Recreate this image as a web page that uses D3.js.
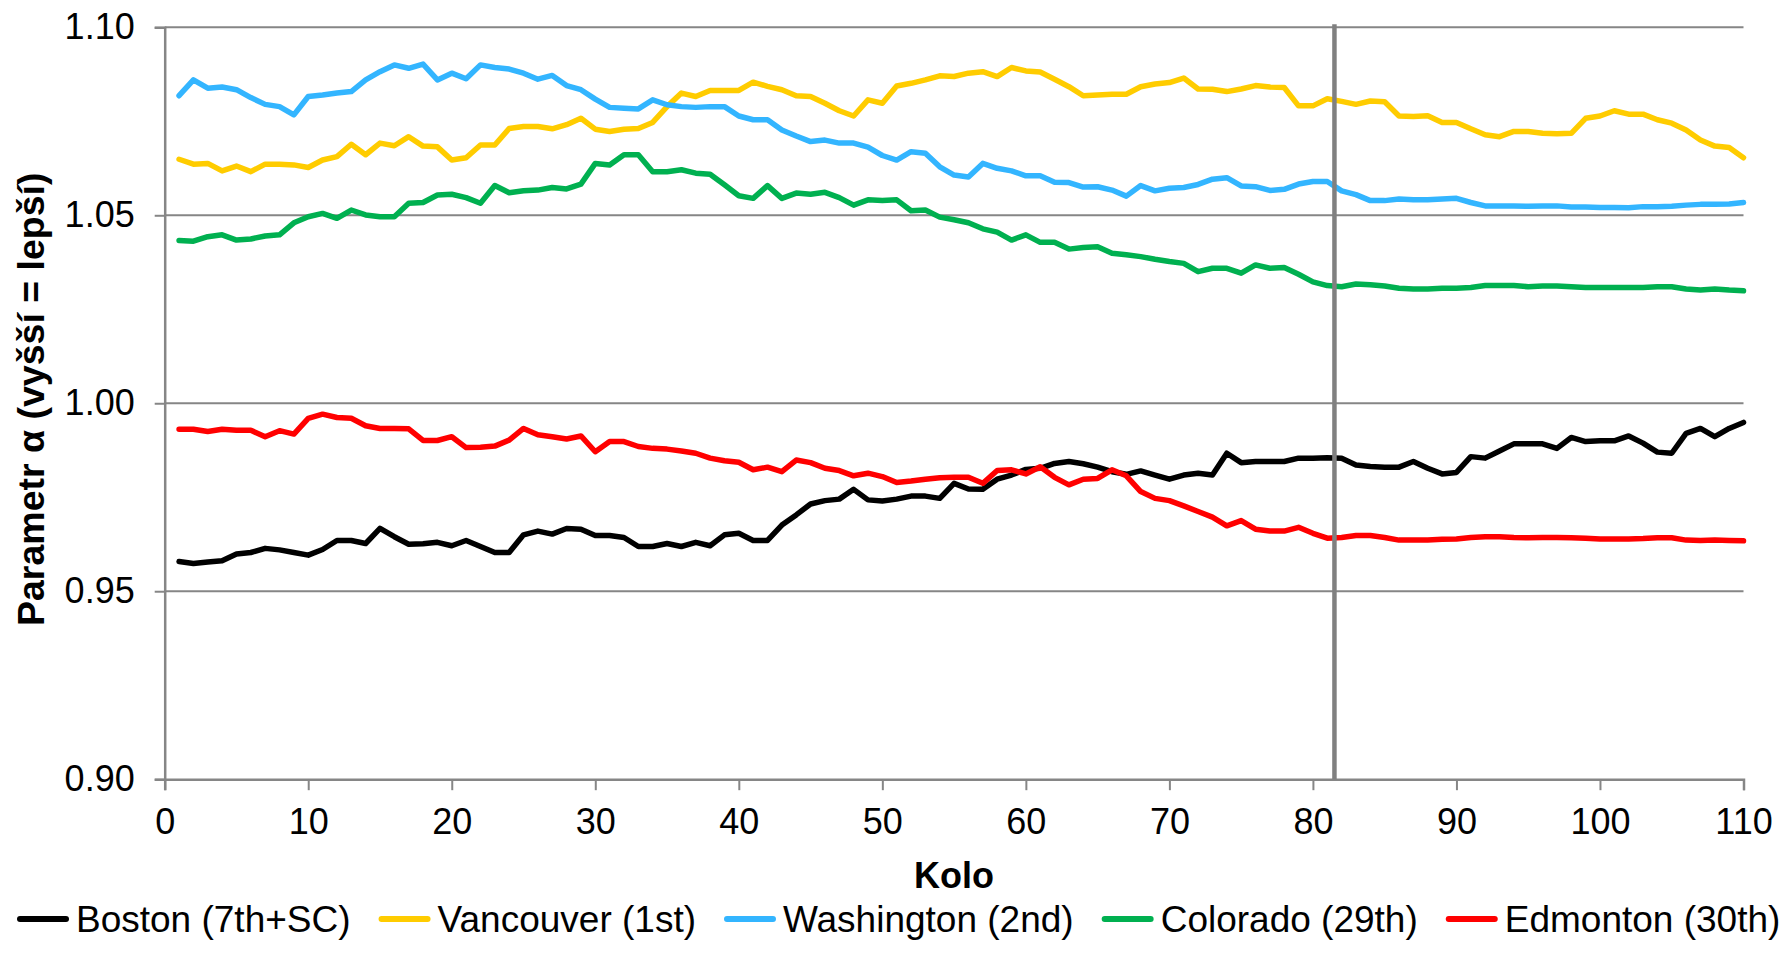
<!DOCTYPE html>
<html>
<head>
<meta charset="utf-8">
<script src="https://cdn.jsdelivr.net/npm/d3@7"></script>
<style>
  html, body { margin: 0; padding: 0; background: #fff; }
  svg { display: block; font-family: "Liberation Sans", Arial, sans-serif; }
</style>
</head>
<body>
<svg id="chart" width="1781" height="971"></svg>
<script>
// Parameter alpha per round for five teams
const seriesNames = ["Boston (7th+SC)", "Vancouver (1st)", "Washington (2nd)", "Colorado (29th)", "Edmonton (30th)"];
const seriesColors = ["#000000", "#FFCC00", "#33B5FF", "#00B050", "#FF0000"];

const boston = [0.9579,0.9574,0.9578,0.9581,0.9599,0.9603,0.9614,0.9610,0.9603,0.9596,
  0.9611,0.9635,0.9635,0.9627,0.9667,0.9645,0.9625,0.9626,0.9630,0.9621,
  0.9635,0.9619,0.9603,0.9603,0.9650,0.9660,0.9652,0.9667,0.9665,0.9648,
  0.9648,0.9643,0.9619,0.9619,0.9627,0.9619,0.9630,0.9621,0.9650,0.9654,
  0.9635,0.9635,0.9676,0.9703,0.9732,0.9741,0.9745,0.9771,0.9743,0.9740,
  0.9745,0.9753,0.9753,0.9747,0.9787,0.9772,0.9771,0.9798,0.9809,0.9824,
  0.9827,0.9840,0.9845,0.9839,0.9830,0.9818,0.9811,0.9820,0.9809,0.9798,
  0.9809,0.9814,0.9809,0.9867,0.9842,0.9845,0.9845,0.9845,0.9854,0.9854,
  0.9855,0.9854,0.9836,0.9832,0.9830,0.9830,0.9845,0.9827,0.9812,0.9816,
  0.9858,0.9854,0.9873,0.9892,0.9892,0.9892,0.9880,0.9909,0.9898,0.9900,
  0.9900,0.9913,0.9894,0.9870,0.9867,0.9920,0.9933,0.9911,0.9933,0.9949];

const vancouver = [1.0649,1.0636,1.0638,1.0618,1.0631,1.0616,1.0636,1.0636,1.0634,1.0627,
  1.0647,1.0656,1.0689,1.0661,1.0692,1.0685,1.0709,1.0684,1.0682,1.0647,
  1.0653,1.0687,1.0687,1.0731,1.0736,1.0736,1.0730,1.0741,1.0758,1.0729,
  1.0723,1.0729,1.0731,1.0747,1.0789,1.0825,1.0816,1.0832,1.0832,1.0832,
  1.0854,1.0843,1.0834,1.0818,1.0816,1.0798,1.0778,1.0764,1.0807,1.0798,
  1.0844,1.0851,1.0860,1.0871,1.0869,1.0878,1.0882,1.0869,1.0893,1.0884,
  1.0881,1.0862,1.0842,1.0818,1.0820,1.0822,1.0822,1.0842,1.0849,1.0853,
  1.0865,1.0836,1.0835,1.0829,1.0836,1.0845,1.0841,1.0840,1.0791,1.0791,
  1.0810,1.0803,1.0795,1.0804,1.0802,1.0764,1.0763,1.0765,1.0747,1.0747,
  1.0730,1.0714,1.0709,1.0723,1.0723,1.0718,1.0717,1.0718,1.0758,1.0764,
  1.0778,1.0769,1.0769,1.0754,1.0745,1.0727,1.0700,1.0684,1.0680,1.0653];

const washington = [1.0818,1.0860,1.0838,1.0841,1.0834,1.0813,1.0795,1.0789,1.0767,1.0816,
  1.0820,1.0825,1.0829,1.0860,1.0882,1.0900,1.0891,1.0902,1.0860,1.0878,
  1.0863,1.0900,1.0893,1.0889,1.0878,1.0862,1.0872,1.0845,1.0834,1.0809,
  1.0787,1.0785,1.0783,1.0807,1.0794,1.0789,1.0787,1.0789,1.0789,1.0764,
  1.0754,1.0754,1.0727,1.0711,1.0696,1.0700,1.0692,1.0692,1.0681,1.0659,
  1.0647,1.0669,1.0665,1.0629,1.0607,1.0602,1.0638,1.0625,1.0618,1.0605,
  1.0605,1.0588,1.0587,1.0575,1.0576,1.0567,1.0551,1.0579,1.0565,1.0572,
  1.0574,1.0582,1.0596,1.0600,1.0578,1.0576,1.0566,1.0569,1.0583,1.0590,
  1.0590,1.0565,1.0555,1.0539,1.0539,1.0543,1.0541,1.0541,1.0543,1.0545,
  1.0534,1.0525,1.0525,1.0525,1.0524,1.0525,1.0525,1.0522,1.0522,1.0521,
  1.0521,1.0520,1.0523,1.0523,1.0524,1.0527,1.0529,1.0529,1.0530,1.0534];

const colorado = [1.0433,1.0431,1.0443,1.0448,1.0434,1.0437,1.0445,1.0448,1.0480,1.0496,
  1.0505,1.0492,1.0514,1.0501,1.0496,1.0496,1.0532,1.0534,1.0554,1.0556,
  1.0547,1.0532,1.0579,1.0560,1.0565,1.0567,1.0574,1.0570,1.0583,1.0638,
  1.0634,1.0661,1.0661,1.0616,1.0616,1.0621,1.0612,1.0609,1.0581,1.0552,
  1.0545,1.0579,1.0545,1.0559,1.0556,1.0561,1.0547,1.0527,1.0541,1.0539,
  1.0541,1.0512,1.0514,1.0495,1.0488,1.0480,1.0464,1.0455,1.0434,1.0448,
  1.0428,1.0428,1.0410,1.0414,1.0416,1.0399,1.0395,1.0390,1.0383,1.0377,
  1.0372,1.0350,1.0359,1.0359,1.0346,1.0368,1.0359,1.0361,1.0343,1.0323,
  1.0313,1.0310,1.0317,1.0315,1.0312,1.0306,1.0304,1.0304,1.0306,1.0306,
  1.0308,1.0313,1.0313,1.0313,1.0310,1.0312,1.0312,1.0310,1.0308,1.0308,
  1.0308,1.0308,1.0308,1.0310,1.0310,1.0304,1.0301,1.0304,1.0301,1.0299];

const edmonton = [0.9931,0.9931,0.9925,0.9931,0.9928,0.9928,0.9911,0.9927,0.9918,0.9960,
  0.9971,0.9962,0.9960,0.9940,0.9933,0.9933,0.9932,0.9901,0.9901,0.9911,
  0.9882,0.9883,0.9886,0.9902,0.9933,0.9916,0.9911,0.9905,0.9913,0.9871,
  0.9898,0.9898,0.9885,0.9880,0.9878,0.9873,0.9867,0.9854,0.9847,0.9843,
  0.9823,0.9830,0.9818,0.9849,0.9842,0.9827,0.9821,0.9807,0.9814,0.9805,
  0.9789,0.9793,0.9798,0.9802,0.9803,0.9803,0.9787,0.9821,0.9823,0.9812,
  0.9831,0.9803,0.9783,0.9798,0.9800,0.9823,0.9807,0.9765,0.9747,0.9741,
  0.9727,0.9712,0.9697,0.9674,0.9688,0.9665,0.9660,0.9660,0.9670,0.9654,
  0.9641,0.9643,0.9648,0.9648,0.9643,0.9636,0.9636,0.9636,0.9638,0.9639,
  0.9643,0.9645,0.9645,0.9643,0.9642,0.9643,0.9643,0.9642,0.9641,0.9639,
  0.9639,0.9639,0.9640,0.9642,0.9642,0.9636,0.9635,0.9636,0.9635,0.9634];

const xTicks = [0, 10, 20, 30, 40, 50, 60, 70, 80, 90, 100, 110];
const yTicks = [0.90, 0.95, 1.00, 1.05, 1.10];
const markerRound = 81.5;   // vertical divider
const xTitle = "Kolo";
const yTitle = "Parametr α (vyšší = lepší)";

const allSeries = [boston, vancouver, washington, colorado, edmonton];

const svg = d3.select("#chart");
const plot = { left: 164.7, right: 1743.5, top: 27.3, bottom: 779.2 };
const gridColor = "#868686";
const fontSize = 36;

const x = d3.scaleLinear().domain([0, 110]).range([plot.left, plot.right]);
const y = d3.scaleLinear().domain([0.90, 1.10]).range([plot.bottom, plot.top]);

// horizontal gridlines
svg.append("g")
  .selectAll("line")
  .data(yTicks.filter(v => v > 0.9))
  .join("line")
  .attr("x1", plot.left).attr("x2", plot.right)
  .attr("y1", d => y(d)).attr("y2", d => y(d))
  .attr("stroke", gridColor).attr("stroke-width", 2);

// y axis
const yAxis = svg.append("g")
  .attr("transform", `translate(${plot.left},0)`)
  .call(d3.axisLeft(y).tickValues(yTicks).tickFormat(d3.format(".2f")).tickSize(10).tickPadding(20));
yAxis.select(".domain").attr("stroke", gridColor).attr("stroke-width", 2.5);
yAxis.selectAll(".tick line").attr("stroke", gridColor).attr("stroke-width", 2);
yAxis.selectAll(".tick text").attr("font-size", fontSize).attr("fill", "#000")
  .attr("font-family", "'Liberation Sans', Arial, sans-serif");

// x axis
const xAxis = svg.append("g")
  .attr("transform", `translate(0,${plot.bottom})`)
  .call(d3.axisBottom(x).tickValues(xTicks).tickFormat(d3.format("d")).tickSize(11).tickPadding(18));
xAxis.select(".domain").attr("stroke", gridColor).attr("stroke-width", 2.5);
xAxis.selectAll(".tick line").attr("stroke", gridColor).attr("stroke-width", 2);
xAxis.selectAll(".tick text").attr("font-size", fontSize).attr("fill", "#000")
  .attr("font-family", "'Liberation Sans', Arial, sans-serif");

// series lines
const line = d3.line()
  .x((d, i) => x(i + 1))
  .y(d => y(d));

svg.append("g")
  .selectAll("path")
  .data(allSeries)
  .join("path")
  .attr("d", d => line(d))
  .attr("fill", "none")
  .attr("stroke", (d, i) => seriesColors[i])
  .attr("stroke-width", 5.5)
  .attr("stroke-linejoin", "round")
  .attr("stroke-linecap", "round");

// vertical divider
svg.append("line")
  .attr("x1", x(markerRound)).attr("x2", x(markerRound))
  .attr("y1", y(1.10) - 3).attr("y2", plot.bottom)
  .attr("stroke", "#808080").attr("stroke-width", 4.5);

// axis titles
svg.append("text")
  .attr("x", (plot.left + plot.right) / 2).attr("y", 888)
  .attr("text-anchor", "middle")
  .attr("font-size", fontSize).attr("font-weight", "bold")
  .text(xTitle);

svg.append("text")
  .attr("transform", `translate(44,${(plot.top + plot.bottom) / 2 - 4}) rotate(-90)`)
  .attr("text-anchor", "middle")
  .attr("font-size", 37.5).attr("font-weight", "bold")
  .text(yTitle);

// legend
const legend = svg.append("g");
let lx = 17;
const ly = 919;
seriesNames.forEach((name, i) => {
  legend.append("line")
    .attr("x1", lx + 3).attr("x2", lx + 49)
    .attr("y1", ly).attr("y2", ly)
    .attr("stroke", seriesColors[i]).attr("stroke-width", 6)
    .attr("stroke-linecap", "round");
  const t = legend.append("text")
    .attr("x", lx + 59).attr("y", ly)
    .attr("dominant-baseline", "central")
    .attr("font-size", 37)
    .text(name);
  lx += 59 + t.node().getComputedTextLength() + 28;
});
</script>
</body>
</html>
